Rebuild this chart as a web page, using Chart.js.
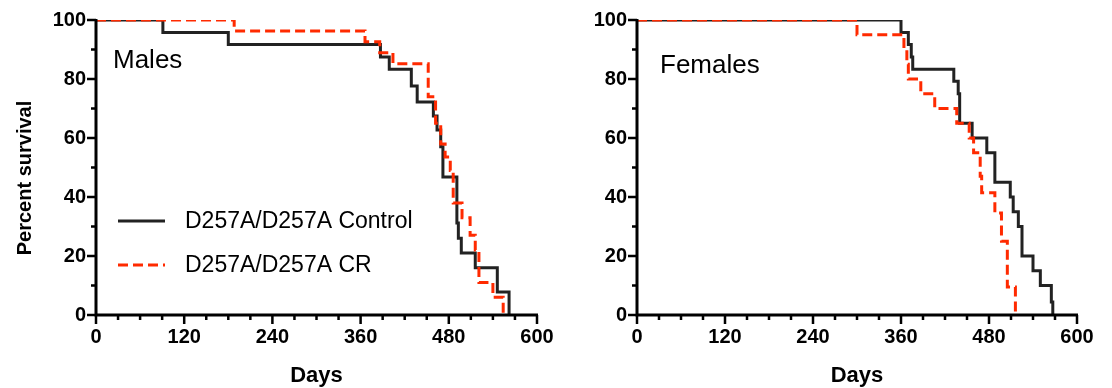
<!DOCTYPE html>
<html>
<head>
<meta charset="utf-8">
<title>Survival D257A/D257A</title>
<script src="https://cdn.jsdelivr.net/npm/chart.js@4.4.1/dist/chart.umd.min.js"></script>
<style>
  body { margin: 0; background: #fff; }
  #wrap { position: relative; width: 1112px; height: 388px; }
  canvas { position: absolute; top: 0; }
</style>
</head>
<body>
<div id="wrap">
  <canvas id="malesChart" width="556" height="388" style="left:0px"></canvas>
  <canvas id="femalesChart" width="556" height="388" style="left:556px"></canvas>
</div>
<script>
// Tick labels
const xTicks = [0, 120, 240, 360, 480, 600];
const yTicks = [0, 20, 40, 60, 80, 100];

// Males - Control (days, percent survival after that day)
const maleControlDays = [0, 91, 180, 387, 399, 429, 437, 459, 464, 469, 472, 491, 493, 497, 516, 546, 562];
const maleControlSurv = [100, 95.8, 91.7, 87.5, 83.3, 77.6, 72.2, 67.5, 62.7, 57, 46.8, 31.2, 26, 21, 16, 7.8, 0];

// Males - CR
const maleCRDays = [0, 188, 366, 386, 404, 452, 462, 469, 475, 482, 486, 498, 509, 516, 521, 540, 554];
const maleCRSurv = [100, 96.3, 92.6, 88.9, 85.2, 74, 65, 58, 53.6, 49, 38, 33, 27, 22, 11, 6, 0];

// Females - Control
const femaleControlDays = [0, 360, 370, 374, 376, 432, 438, 440, 457, 477, 488, 509, 513, 520, 525, 540, 550, 565, 567];
const femaleControlSurv = [100, 95.8, 91.7, 87.5, 83.3, 79.2, 75, 65, 60, 55, 45, 40, 35, 30, 20, 15, 10, 4.4, 0];

// Females - CR
const femaleCRDays = [0, 300, 364, 368, 370, 387, 406, 436, 453, 459, 468, 470, 488, 497, 505, 516];
const femaleCRSurv = [100, 95, 90, 85, 80, 75, 70, 65, 60, 55, 47, 41.4, 34.6, 25, 9.5, 0];

const seriesNames = ['D257A/D257A Control', 'D257A/D257A CR'];
const FONT = '"Liberation Sans", Arial, Helvetica, sans-serif';
const BLACK = '#222222';
const RED = '#ff2a00';

function toPoints(days, surv) {
    return days.map((d, i) => ({ x: d, y: surv[i] }));
}

// draws axis lines, major/minor ticks, titles and the legend
const axesPlugin = {
    id: 'axesPlugin',
    afterDatasetsDraw(chart, args, opts) {
        const ctx = chart.ctx;
        const xs = chart.scales.x;
        const ys = chart.scales.y;
        const x0 = xs.getPixelForValue(0);
        const x1 = xs.getPixelForValue(600);
        const y0 = ys.getPixelForValue(0);
        const y1 = ys.getPixelForValue(100);
        ctx.save();
        ctx.strokeStyle = '#000';
        ctx.lineWidth = 3;
        ctx.lineCap = 'butt';
        ctx.beginPath();
        ctx.moveTo(x0 - 1.5, y0);
        ctx.lineTo(x1 + 1, y0);
        ctx.moveTo(x0, y0 + 1.5);
        ctx.lineTo(x0, y1 - 1);
        ctx.stroke();

        ctx.lineWidth = 2.5;
        ctx.beginPath();
        for (let d = 0; d <= 600; d += 30) {
            const px = xs.getPixelForValue(d);
            const len = d % 120 === 0 ? 9 : 5;
            ctx.moveTo(px, y0);
            ctx.lineTo(px, y0 + len);
        }
        for (let v = 0; v <= 100; v += 10) {
            const py = ys.getPixelForValue(v);
            const len = v % 20 === 0 ? 9 : 5;
            ctx.moveTo(x0, py);
            ctx.lineTo(x0 - len, py);
        }
        ctx.stroke();

        ctx.fillStyle = '#000';
        ctx.textAlign = 'center';
        ctx.textBaseline = 'middle';
        ctx.font = 'bold 22px ' + FONT;
        ctx.fillText('Days', (x0 + x1) / 2, 376);

        if (opts.yTitle) {
            ctx.save();
            ctx.translate(25, 178);
            ctx.rotate(-Math.PI / 2);
            ctx.font = 'bold 20px ' + FONT;
            ctx.fillText(opts.yTitle, 0, 0);
            ctx.restore();
        }

        ctx.textAlign = 'left';
        ctx.font = '26px ' + FONT;
        ctx.fillText(opts.label, opts.labelX, opts.labelY);

        if (opts.legend) {
            const items = [
                { text: seriesNames[0], color: BLACK, dash: [] , y: 221 },
                { text: seriesNames[1], color: RED, dash: [10, 5], y: 265 }
            ];
            items.forEach(it => {
                ctx.strokeStyle = it.color;
                ctx.lineWidth = 3;
                ctx.setLineDash(it.dash);
                ctx.beginPath();
                ctx.moveTo(118, it.y);
                ctx.lineTo(165, it.y);
                ctx.stroke();
                ctx.setLineDash([]);
                ctx.font = '23px ' + FONT;
                ctx.fillStyle = '#000';
                ctx.fillText(it.text, 185, it.y + 1);
            });
        }
        ctx.restore();
    }
};

function makeChart(id, controlPts, crPts, yWidth, padRight, extra) {
    const ctx = document.getElementById(id).getContext('2d');
    return new Chart(ctx, {
        type: 'line',
        data: {
            datasets: [
                {
                    label: seriesNames[1],
                    data: crPts,
                    borderColor: RED,
                    borderWidth: 3,
                    borderDash: [10, 5],
                    stepped: 'before',
                    pointRadius: 0,
                    fill: false
                },
                {
                    label: seriesNames[0],
                    data: controlPts,
                    borderColor: BLACK,
                    borderWidth: 3,
                    stepped: 'before',
                    pointRadius: 0,
                    fill: false
                }
            ]
        },
        options: {
            responsive: false,
            animation: false,
            layout: { padding: { left: 0, top: 20, right: padRight, bottom: 0 } },
            plugins: {
                legend: { display: false },
                tooltip: { enabled: false },
                axesPlugin: extra
            },
            scales: {
                x: {
                    type: 'linear',
                    min: 0,
                    max: 600,
                    afterBuildTicks: s => { s.ticks = xTicks.map(v => ({ value: v })); },
                    afterFit: s => {
                        s.height = 73;
                        s.paddingLeft = 0;
                        s.paddingRight = 0;
                    },
                    grid: { display: false, drawTicks: false },
                    border: { display: false },
                    ticks: {
                        padding: 10,
                        color: '#000',
                        maxRotation: 0,
                        autoSkip: false,
                        font: { family: FONT, size: 20, weight: 'bold' }
                    }
                },
                y: {
                    type: 'linear',
                    min: 0,
                    max: 100,
                    afterBuildTicks: s => { s.ticks = yTicks.map(v => ({ value: v })); },
                    afterFit: s => {
                        s.width = yWidth;
                        s.paddingTop = 0;
                        s.paddingBottom = 0;
                    },
                    grid: { display: false, drawTicks: false },
                    border: { display: false },
                    ticks: {
                        padding: 10,
                        color: '#000',
                        font: { family: FONT, size: 20, weight: 'bold' }
                    }
                }
            }
        },
        plugins: [axesPlugin]
    });
}

makeChart('malesChart',
    toPoints(maleControlDays, maleControlSurv),
    toPoints(maleCRDays, maleCRSurv),
    96, 19,
    { yTitle: 'Percent survival', label: 'Males', labelX: 113, labelY: 61, legend: true });

makeChart('femalesChart',
    toPoints(femaleControlDays, femaleControlSurv),
    toPoints(femaleCRDays, femaleCRSurv),
    81, 35,
    { yTitle: null, label: 'Females', labelX: 104, labelY: 66, legend: false });
</script>
</body>
</html>
